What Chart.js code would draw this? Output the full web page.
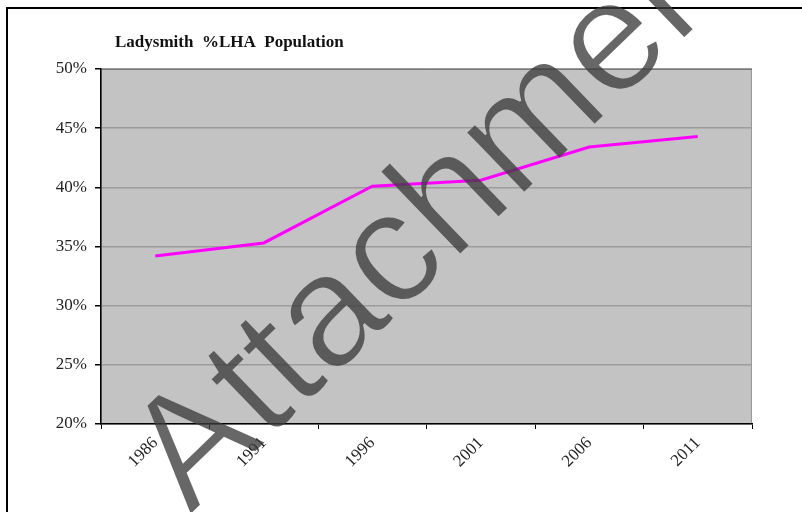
<!DOCTYPE html>
<html>
<head>
<meta charset="utf-8">
<script src="https://cdn.jsdelivr.net/npm/chart.js@4"></script>
<style>
  html, body { margin: 0; padding: 0; background: #fff; }
  #wrap { width: 802px; height: 512px; }
</style>
</head>
<body>
<div id="wrap"><canvas id="chart" width="802" height="512"></canvas></div>
<script>
const years = ['1986', '1991', '1996', '2001', '2006', '2011'];
const lhaShare = [0.342, 0.353, 0.401, 0.406, 0.434, 0.443];
const yTicks = [0.20, 0.25, 0.30, 0.35, 0.40, 0.45, 0.50];
const chartTitle = 'Ladysmith  %LHA  Population';
const watermark = 'Attachment';

// frame, grey plot area, title and the watermark on top
const decor = {
    id: 'decor',
    beforeDraw(chart) {
        const { ctx, chartArea: a } = chart;
        ctx.save();
        ctx.fillStyle = '#c3c3c3';
        ctx.fillRect(a.left, a.top, a.right - a.left, a.bottom - a.top);
        ctx.strokeStyle = '#999';
        ctx.lineWidth = 1;
        ctx.strokeRect(a.left + 0.5, a.top + 0.5, a.right - a.left - 1, a.bottom - a.top - 1);
        ctx.strokeStyle = '#555';
        ctx.beginPath();
        ctx.moveTo(a.left, a.top + 0.5);
        ctx.lineTo(a.right, a.top + 0.5);
        ctx.stroke();
        // outer frame (left + top only, rest is cropped)
        ctx.strokeStyle = '#000';
        ctx.lineWidth = 2;
        ctx.beginPath();
        ctx.moveTo(7, 512);
        ctx.lineTo(7, 8);
        ctx.lineTo(802, 8);
        ctx.stroke();
        ctx.fillStyle = '#111';
        ctx.font = 'bold 17px "Liberation Serif", serif';
        ctx.textBaseline = 'middle';
        ctx.fillText(chartTitle, 115, 43);
        ctx.restore();
    },
    afterDraw(chart) {
        // watermark: thin the glyphs a bit by eroding the outline
        const off = document.createElement('canvas');
        off.width = chart.width;
        off.height = chart.height;
        const o = off.getContext('2d');
        o.translate(190, 516);
        o.rotate(-44 * Math.PI / 180);
        o.font = '160px "Liberation Sans", Arial, sans-serif';
        o.fillStyle = 'rgba(60,60,60,0.78)';
        o.fillText(watermark, 0, 0);
        o.globalCompositeOperation = 'destination-out';
        o.lineWidth = 2.5;
        o.strokeStyle = '#000';
        o.strokeText(watermark, 0, 0);
        chart.ctx.drawImage(off, 0, 0);
    }
};

new Chart(document.getElementById('chart').getContext('2d'), {
    type: 'line',
    data: {
        labels: years,
        datasets: [{
            data: lhaShare,
            borderColor: '#ff00ff',
            borderWidth: 3,
            pointRadius: 0,
            tension: 0,
            fill: false
        }]
    },
    options: {
        responsive: false,
        animation: false,
        layout: { padding: { top: 69, left: 0, right: 50, bottom: 0 } },
        plugins: {
            legend: { display: false },
            tooltip: { enabled: false }
        },
        scales: {
            x: {
                type: 'category',
                offset: true,
                grid: {
                    offset: true,
                    drawOnChartArea: false,
                    tickLength: 5,
                    tickColor: '#000'
                },
                border: { color: '#000', width: 1.5 },
                ticks: {
                    color: '#222',
                    font: { family: '"Liberation Serif", serif', size: 17 },
                    minRotation: 45,
                    maxRotation: 45,
                    padding: 4
                },
                afterFit(scale) { scale.height = 88; }
            },
            y: {
                min: yTicks[0],
                max: yTicks[yTicks.length - 1],
                afterBuildTicks(scale) {
                    scale.ticks = yTicks.map(v => ({ value: v }));
                },
                grid: {
                    color: '#9c9c9c',
                    lineWidth: 1.5,
                    tickLength: 6,
                    tickColor: '#000'
                },
                border: { color: '#000', width: 1.5 },
                ticks: {
                    color: '#222',
                    font: { family: '"Liberation Serif", serif', size: 17 },
                    padding: 8,
                    callback: v => Math.round(v * 100) + '%'
                },
                afterFit(scale) { scale.width = 101; }
            }
        }
    },
    plugins: [decor]
});
</script>
</body>
</html>
